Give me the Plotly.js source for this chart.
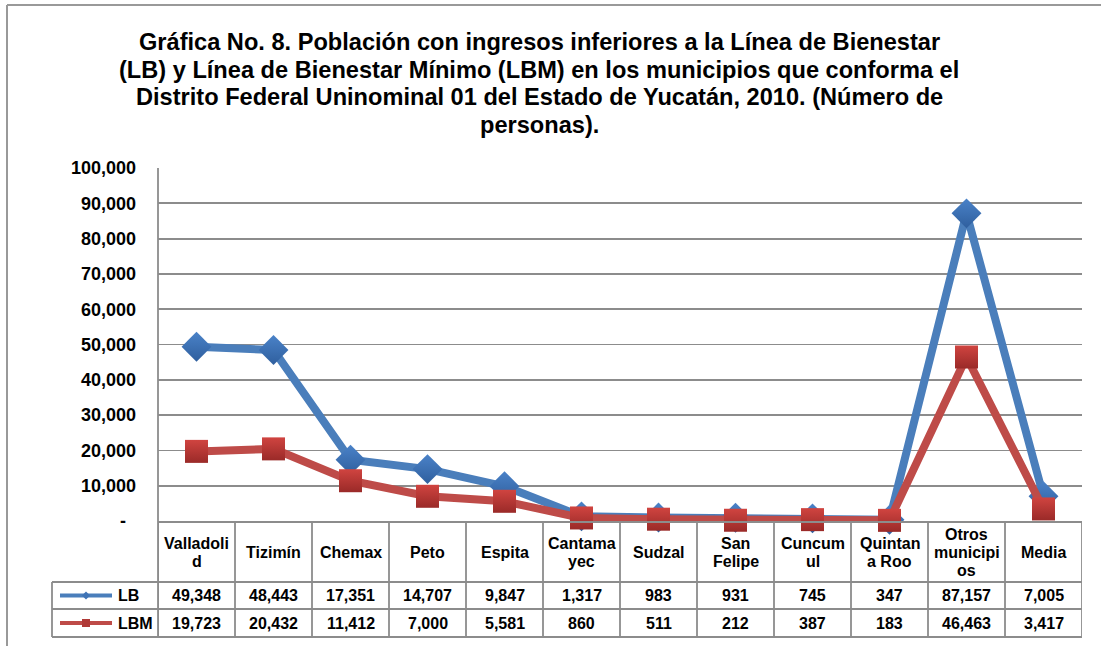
<!DOCTYPE html>
<html>
<head>
<meta charset="utf-8">
<script src="https://cdn.plot.ly/plotly-3.0.1.min.js"></script>
<style>html,body{margin:0;padding:0;background:#fff;}#chart{width:1101px;height:646px;}</style>
</head>
<body>
<div id="chart"></div>
<script>
// ---- data ----
const categories = ['Valladolid','Tizimín','Chemax','Peto','Espita','Cantamayec','Sudzal','San Felipe','Cuncumul','Quintana Roo','Otros municipios','Media'];
const headerLabels = ['Valladoli<br>d','Tizimín','Chemax','Peto','Espita','Cantama<br>yec','Sudzal','San<br>Felipe','Cuncum<br>ul','Quintan<br>a Roo','Otros<br>municipi<br>os','Media'];
const lbValues  = [49348,48443,17351,14707,9847,1317,983,931,745,347,87157,7005];
const lbmValues = [19723,20432,11412,7000,5581,860,511,212,387,183,46463,3417];
const yTickVals = [0,10000,20000,30000,40000,50000,60000,70000,80000,90000,100000];
const yTickText = ['-\u00a0\u00a0','10,000','20,000','30,000','40,000','50,000','60,000','70,000','80,000','90,000','100,000'];
const seriesNames = ['LB','LBM'];
const titleLines = ['Gráfica No. 8. Población con ingresos inferiores a la Línea de Bienestar','(LB) y Línea de Bienestar Mínimo (LBM) en los municipios que conforma el','Distrito Federal Uninominal 01 del Estado de Yucatán, 2010. (Número de','personas).'];

// ---- layout helpers (pixel -> paper) ----
const W = 1101, H = 646;
const L = 158, R = 1082, T = 168, B = 521;
const px = X => (X - L) / (R - L);
const py = Y => (B - Y) / (B - T);
const FONT = 'Liberation Sans, Arial, sans-serif';
const gray = '#8c8c8c';
const blue = '#4a7ebb', red = '#be4b48';

const traces = [
  {x: categories, y: lbValues, name: seriesNames[0], type: 'scatter', mode: 'lines+markers',
   line: {color: blue, width: 8}, cliponaxis: false,
   marker: {symbol: 'diamond', size: 23, color: '#4a82c8', gradient: {type: 'vertical', color: '#2f5f9e'}, line: {width: 0}}},
  {x: categories, y: lbmValues, name: seriesNames[1], type: 'scatter', mode: 'lines+markers',
   line: {color: red, width: 8}, cliponaxis: false,
   marker: {symbol: 'square', size: 23, color: '#d04440', gradient: {type: 'vertical', color: '#9a2a28'}, line: {width: 0}}}
];

const rowTop = 521, headBot = 582, lbBot = 609, lbmBot = 637, legLeft = 52;
const shapes = [];
const ln = (x0, y0, x1, y1, xref, extra) => Object.assign({type: 'line', xref: xref || 'paper', yref: 'paper', x0, y0, x1, y1, line: {color: gray, width: 1.8}, layer: 'below'}, extra || {});

// outer frame
shapes.push(ln(px(7), py(5), px(W + 5), py(5), 'paper', {line: {color: '#999', width: 2}}));
shapes.push(ln(px(7), py(5), px(7), py(H + 5), 'paper', {line: {color: '#999', width: 2}}));
// y axis line extended to table bottom
shapes.push(ln(0, 1, 0, py(lbmBot)));
// table horizontal lines
shapes.push(ln(px(legLeft), py(headBot), 1, py(headBot)));
shapes.push(ln(px(legLeft), py(lbBot), 1, py(lbBot)));
shapes.push(ln(px(legLeft), py(lbmBot), 1, py(lbmBot)));
shapes.push(ln(px(legLeft), py(headBot), px(legLeft), py(lbmBot)));
// table vertical lines at category boundaries
for (let i = 0; i <= categories.length; i++) {
  shapes.push(ln(i - 0.5, py(rowTop), i - 0.5, py(lbmBot), 'x'));
}
// legend keys in table
const keyY1 = (headBot + lbBot) / 2, keyY2 = (lbBot + lbmBot) / 2;
shapes.push(ln(px(60), py(keyY1), px(112), py(keyY1), 'paper', {line: {color: blue, width: 4}, layer: 'above'}));
shapes.push({type: 'path', xref: 'paper', yref: 'paper', layer: 'above', fillcolor: '#3f73b5', line: {width: 0},
  path: `M ${px(86)} ${py(keyY1-4)} L ${px(90)} ${py(keyY1)} L ${px(86)} ${py(keyY1+4)} L ${px(82)} ${py(keyY1)} Z`});
shapes.push(ln(px(60), py(keyY2), px(112), py(keyY2), 'paper', {line: {color: red, width: 4}, layer: 'above'}));
shapes.push({type: 'rect', xref: 'paper', yref: 'paper', layer: 'above', fillcolor: '#b03a37', line: {width: 0},
  x0: px(82), x1: px(90), y0: py(keyY2 - 4), y1: py(keyY2 + 4)});

const annotations = [];
// title, one annotation per line
const titleCenters = [42, 70, 97, 125];
titleLines.forEach((t, k) => annotations.push({xref: 'paper', yref: 'paper', x: px(539), y: py(titleCenters[k]), text: t,
  showarrow: false, xanchor: 'center', yanchor: 'middle', font: {family: FONT, size: 23.6, color: '#000', weight: 'bold'}}));

const tfont = {family: FONT, size: 16, color: '#000', weight: 'bold'};
// header labels, one annotation per line
headerLabels.forEach((lab, i) => {
  const parts = lab.split('<br>');
  const c = (rowTop + headBot) / 2 + 1, sp = 18;
  parts.forEach((p, k) => {
    const yy = c + (k - (parts.length - 1) / 2) * sp;
    annotations.push({xref: 'x', yref: 'paper', x: i, y: py(yy), text: p, showarrow: false,
      xanchor: 'center', yanchor: 'middle', font: tfont});
  });
});
const fmt = v => v.toLocaleString('en-US');
lbValues.forEach((v, i) => annotations.push({xref: 'x', yref: 'paper', x: i, y: py(keyY1), text: fmt(v), showarrow: false, xanchor: 'center', yanchor: 'middle', font: tfont}));
lbmValues.forEach((v, i) => annotations.push({xref: 'x', yref: 'paper', x: i, y: py(keyY2), text: fmt(v), showarrow: false, xanchor: 'center', yanchor: 'middle', font: tfont}));
annotations.push({xref: 'paper', yref: 'paper', x: px(116), y: py(keyY1), text: seriesNames[0], showarrow: false, xanchor: 'left', yanchor: 'middle', font: tfont});
annotations.push({xref: 'paper', yref: 'paper', x: px(116), y: py(keyY2), text: seriesNames[1], showarrow: false, xanchor: 'left', yanchor: 'middle', font: tfont});

const layout = {
  width: W, height: H,
  margin: {l: L, r: W - R, t: T, b: H - B, pad: 0},
  paper_bgcolor: '#fff', plot_bgcolor: '#fff',
  showlegend: false,
  xaxis: {type: 'category', range: [-0.5, categories.length - 0.5], showticklabels: false, showgrid: false,
    zeroline: false, showline: true, linecolor: gray, linewidth: 1.8, ticks: '', fixedrange: true},
  yaxis: {range: [0, 100000], tickvals: yTickVals, ticktext: yTickText, showgrid: true, gridcolor: gray, gridwidth: 1.8,
    zeroline: false, showline: false, ticks: '', ticklabelstandoff: 21,
    tickfont: {family: FONT, size: 18, color: '#000', weight: 'bold'}, fixedrange: true},
  shapes, annotations
};

Plotly.newPlot('chart', traces, layout, {displayModeBar: false, staticPlot: true});
</script>
</body>
</html>
